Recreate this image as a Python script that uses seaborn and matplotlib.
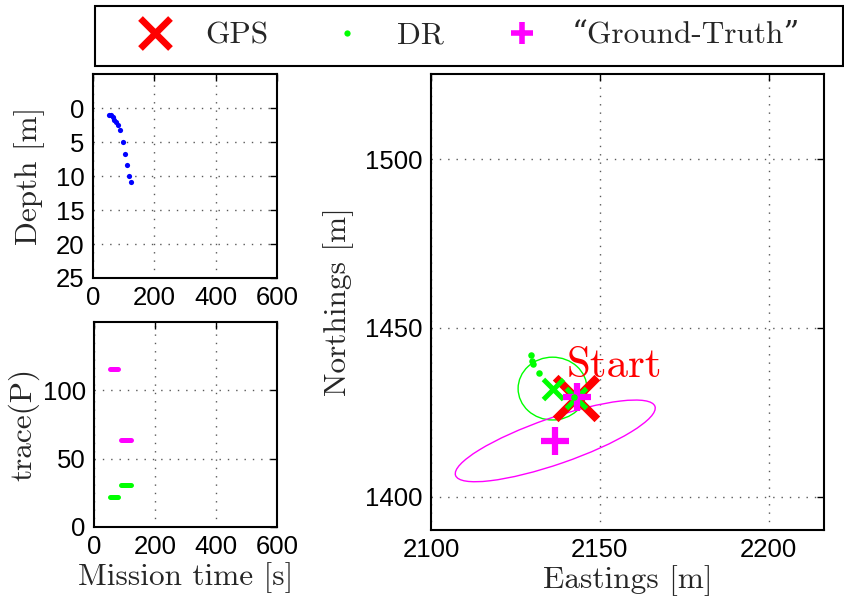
import matplotlib
matplotlib.use("Agg")
import matplotlib.pyplot as plt
import seaborn as sns
from matplotlib.patches import Ellipse, Rectangle
from matplotlib.lines import Line2D

# depth profile (mission time [s], depth [m])
depth_time = [53, 59, 64, 70, 75, 82, 88, 97, 104, 110, 119, 124]
depth_m = [1.0, 1.1, 1.3, 1.7, 2.0, 2.5, 3.2, 5.0, 6.7, 8.4, 10.0, 10.9]

# trace(P): two short runs per filter
trace_t0 = [53, 87]
trace_t1 = [78, 121]
trace_gt = [115.5, 64.0]
trace_dr = [22.0, 30.5]

# map view
dr_trail_e = [2129.5, 2130.0, 2130.1, 2132.0, 2142.4]
dr_trail_n = [1442.0, 1440.3, 1439.2, 1436.5, 1429.5]
gps_e = [2142.9]
gps_n = [1429.2]
dr_e = [2136.0, 2142.9]
dr_n = [1431.8, 1429.2]
gt_e = [2143.1, 2136.8]
gt_n = [1429.6, 1416.5]
# covariance ellipses: centre e, centre n, width, height, angle
dr_cov = [2136.0, 1432.0, 20.4, 18.6, 0.0]
gt_cov = [2136.8, 1416.5, 62.5, 13.7, 19.1]

sns.set_theme(style="white")
plt.rcParams["font.family"] = ["Liberation Sans", "DejaVu Sans"]
serif = ["cmr10", "DejaVu Serif"]
green = "#00ff00"

W, H = 844, 599
fig = plt.figure(figsize=(W / 100, H / 100), dpi=100)


def box(l, t, r, b):
    return [l / W, 1 - b / H, (r - l) / W, (b - t) / H]


def style(ax):
    for s in ax.spines.values():
        s.set_color("black")
        s.set_linewidth(1.5)
    ax.tick_params(direction="in", length=5, width=1, top=True, right=True,
                   labelsize=18.5, pad=6, colors="black")
    ax.grid(True, color="0.35", linestyle=(0, (1, 5)), linewidth=1.0)


# depth
ax_d = fig.add_axes(box(93, 74, 277, 278))
sns.scatterplot(x=depth_time, y=depth_m, color="blue", s=14, linewidth=0, ax=ax_d)
ax_d.set_xlim(0, 600)
ax_d.set_ylim(25, -5)
ax_d.set_xticks([0, 200, 400, 600])
ax_d.set_yticks([0, 5, 10, 15, 20, 25])
ax_d.set_ylabel("Depth [m]", family=serif, fontsize=22.5, labelpad=8)
style(ax_d)

# trace(P)
ax_p = fig.add_axes(box(94, 322, 277, 527))
for t0, t1, v in zip(trace_t0, trace_t1, trace_gt):
    sns.lineplot(x=[t0, t1], y=[v, v], color="magenta", linewidth=3.6,
                 solid_capstyle="round", ax=ax_p)
for t0, t1, v in zip(trace_t0, trace_t1, trace_dr):
    sns.lineplot(x=[t0, t1], y=[v, v], color=green, linewidth=3.6,
                 solid_capstyle="round", ax=ax_p)
ax_p.set_xlim(0, 600)
ax_p.set_ylim(0, 150)
ax_p.set_xticks([0, 200, 400, 600])
ax_p.set_yticks([0, 50, 100])
ax_p.set_ylabel("trace(P)", family=serif, fontsize=22.5, labelpad=2)
ax_p.set_xlabel("Mission time [s]", family=serif, fontsize=22.5, labelpad=2)
style(ax_p)

# map
ax_m = fig.add_axes(box(431, 74, 824, 530))
for cov, col in [(dr_cov, green), (gt_cov, "magenta")]:
    ax_m.add_patch(Ellipse((cov[0], cov[1]), cov[2], cov[3], angle=cov[4],
                           fill=False, edgecolor=col, linewidth=1.0))
sns.scatterplot(x=dr_trail_e[:-1], y=dr_trail_n[:-1], color=green, s=22,
                linewidth=0, ax=ax_m)
sns.scatterplot(x=gps_e, y=gps_n, marker="x", color="red", s=30 ** 2,
                linewidth=5.8, ax=ax_m, zorder=3)
sns.scatterplot(x=dr_e, y=dr_n, marker="x", color=green, s=14.5 ** 2,
                linewidth=3.6, ax=ax_m, zorder=4)
sns.scatterplot(x=gt_e, y=gt_n, marker="+", color="magenta", s=19.5 ** 2,
                linewidth=4.5, ax=ax_m, zorder=5)
sns.scatterplot(x=dr_trail_e[-1:], y=dr_trail_n[-1:], color=green, s=22,
                linewidth=0, ax=ax_m, zorder=6)
ax_m.text(2140.2, 1435.5, "Start", color="red", family=serif, fontsize=31,
          va="baseline", ha="left")
ax_m.set_xlim(2100, 2216.4)
ax_m.set_ylim(1390.1, 1525.2)
ax_m.set_xticks([2100, 2150, 2200])
ax_m.set_yticks([1400, 1450, 1500])
ax_m.set_xlabel("Eastings [m]", family=serif, fontsize=22.5, labelpad=2)
ax_m.set_ylabel("Northings [m]", family=serif, fontsize=22.5, labelpad=8)
style(ax_m)

# legend across the top
handles = [
    Line2D([], [], linestyle="", marker="x", color="red", markersize=22, markeredgewidth=4.8),
    Line2D([], [], linestyle="", marker="o", color=green, markersize=4.5, markeredgewidth=0),
    Line2D([], [], linestyle="", marker="+", color="magenta", markersize=16, markeredgewidth=4),
]
labels = ["GPS", "DR", "\u201cGround-Truth\u201d"]
fig.legend(handles, labels, ncol=3, loc="center left",
           bbox_to_anchor=(124 / W, 1 - 36 / H), frameon=False,
           borderpad=0, borderaxespad=0, handlelength=2.0, handletextpad=0.6,
           columnspacing=1.5, prop={"family": serif, "size": 22.5})
fig.add_artist(Rectangle((95 / W, 1 - 66 / H), 748 / W, 60 / H,
                         transform=fig.transFigure, fill=False,
                         edgecolor="black", linewidth=1.5))

fig.savefig("out.png", dpi=100)
